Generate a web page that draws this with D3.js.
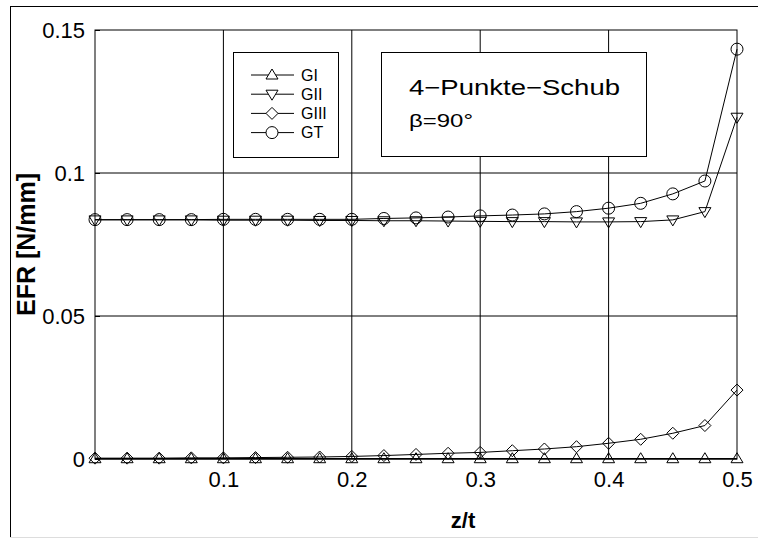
<!DOCTYPE html>
<html>
<head>
<meta charset="utf-8">
<script src="https://cdn.jsdelivr.net/npm/d3@7"></script>
<style>
  html, body { margin: 0; padding: 0; background: #fff; }
  svg { display: block; font-family: "Liberation Sans", Arial, sans-serif; }
</style>
</head>
<body>
<svg id="chart" width="758" height="538"></svg>
<script>
// Position through thickness z/t
const zt = [0, 0.025, 0.05, 0.075, 0.1, 0.125, 0.15, 0.175, 0.2, 0.225, 0.25,
            0.275, 0.3, 0.325, 0.35, 0.375, 0.4, 0.425, 0.45, 0.475, 0.5];

// Energy release rate components [N/mm]
const GI   = [0.0001, 0.0001, 0.0001, 0.0001, 0.0001, 0.0001, 0.0001, 0.0001, 0.0001, 0.0001, 0.0001,
              0.0001, 0.0001, 0.0001, 0.0001, 0.0001, 0.0001, 0.0001, 0.0001, 0.0001, 0.0001];
const GII  = [0.0836, 0.0836, 0.0836, 0.0836, 0.0835, 0.0835, 0.0835, 0.0834, 0.0834, 0.0833, 0.0833,
              0.0832, 0.0831, 0.0830, 0.0830, 0.0829, 0.0829, 0.0830, 0.0836, 0.0865, 0.1195];
const GIII = [0.0003, 0.0003, 0.0003, 0.0004, 0.0004, 0.0005, 0.0006, 0.0007, 0.0009, 0.0012, 0.0016,
              0.0020, 0.0023, 0.0029, 0.0035, 0.0043, 0.0055, 0.0069, 0.0090, 0.0117, 0.0241];
const GT   = [0.0837, 0.0837, 0.0837, 0.0837, 0.0838, 0.0838, 0.0838, 0.0838, 0.0838, 0.0841, 0.0843,
              0.0846, 0.0850, 0.0853, 0.0857, 0.0865, 0.0877, 0.0894, 0.0927, 0.0972, 0.1433];

const seriesNames = ["GI", "GII", "GIII", "GT"];
const seriesSymbols = ["triUp", "triDown", "diamond", "circle"];

const xTicks = [0.1, 0.2, 0.3, 0.4, 0.5];
const yTicks = [0, 0.05, 0.1, 0.15];
const xTickLabels = ["0.1", "0.2", "0.3", "0.4", "0.5"];
const yTickLabels = ["0", "0.05", "0.1", "0.15"];

const titleLines = ["4\u2212Punkte\u2212Schub", "\u03B2=90\u00B0"];

const svg = d3.select("#chart");
const W = 758, H = 538;
const plotL = 95, plotR = 737, plotT = 30, plotB = 459;

const x = d3.scaleLinear().domain([0, 0.5]).range([plotL, plotR]);
const y = d3.scaleLinear().domain([0, 0.15]).range([plotB, plotT]);

// Outer figure frame
svg.append("line").attr("x1", 10).attr("y1", 6.5).attr("x2", W).attr("y2", 6.5)
  .attr("stroke", "#000").attr("stroke-width", 1);
svg.append("line").attr("x1", 10.5).attr("y1", 6).attr("x2", 10.5).attr("y2", H)
  .attr("stroke", "#000").attr("stroke-width", 1);
svg.append("line").attr("x1", 10).attr("y1", 537.5).attr("x2", W).attr("y2", 537.5)
  .attr("stroke", "#ddd").attr("stroke-width", 1);

// Grid
const grid = svg.append("g").attr("stroke", "#000").attr("stroke-width", 1);
xTicks.filter(t => t < 0.5).forEach(t => {
  grid.append("line").attr("x1", x(t)).attr("x2", x(t)).attr("y1", plotT).attr("y2", plotB);
});
yTicks.filter(t => t > 0 && t < 0.15).forEach(t => {
  grid.append("line").attr("x1", plotL).attr("x2", plotR).attr("y1", y(t)).attr("y2", y(t));
});

// Axes box
svg.append("rect").attr("x", plotL).attr("y", plotT)
  .attr("width", plotR - plotL).attr("height", plotB - plotT)
  .attr("fill", "none").attr("stroke", "#000").attr("stroke-width", 1);

// Y axis with inward ticks
const yAxis = d3.axisLeft(y).tickValues(yTicks)
  .tickFormat((d, i) => yTickLabels[i]).tickSizeInner(-5).tickSizeOuter(0).tickPadding(10);
const gy = svg.append("g").attr("transform", `translate(${plotL},0)`).call(yAxis);
gy.select(".domain").remove();
gy.selectAll("text").attr("font-size", 22).attr("fill", "#000")
  .attr("font-family", "Liberation Sans, Arial, sans-serif");
gy.selectAll("line").attr("stroke", "#000");

// X axis labels
const xAxis = d3.axisBottom(x).tickValues(xTicks)
  .tickFormat((d, i) => xTickLabels[i]).tickSize(0).tickPadding(12);
const gx = svg.append("g").attr("transform", `translate(0,${plotB})`).call(xAxis);
gx.select(".domain").remove();
gx.selectAll("text").attr("font-size", 22).attr("fill", "#000")
  .attr("font-family", "Liberation Sans, Arial, sans-serif");

// Axis titles
svg.append("text").attr("x", 463).attr("y", 528)
  .attr("text-anchor", "middle").attr("font-size", 22).attr("font-weight", "bold")
  .text("z/t");
svg.append("text").attr("transform", `translate(35,${(plotT + plotB) / 2}) rotate(-90)`)
  .attr("text-anchor", "middle").attr("font-size", 25).attr("font-weight", "bold")
  .text("EFR [N/mm]");

// Marker shapes
function markerPath(kind) {
  switch (kind) {
    case "triUp":   return "M0,-6L6,4L-6,4Z";
    case "triDown": return "M0,6L6,-4L-6,-4Z";
    case "diamond": return "M0,-6L6,0L0,6L-6,0Z";
    default:        return d3.arc()({innerRadius: 0, outerRadius: 6, startAngle: 0, endAngle: 2 * Math.PI});
  }
}

const allSeries = [GI, GII, GIII, GT];
const line = d3.line().x((d, i) => x(zt[i])).y(d => y(d));
const plot = svg.append("g");
allSeries.forEach((vals, si) => {
  plot.append("path").datum(vals).attr("d", line)
    .attr("fill", "none").attr("stroke", "#000").attr("stroke-width", si === 0 ? 1.5 : 1);
  plot.selectAll(null).data(vals).enter().append("path")
    .attr("transform", (d, i) => `translate(${x(zt[i])},${y(d)})`)
    .attr("d", markerPath(seriesSymbols[si]))
    .attr("fill", "none").attr("stroke", "#000").attr("stroke-width", 1);
});

// Legend
const lg = svg.append("g");
lg.append("rect").attr("x", 233.5).attr("y", 52.5).attr("width", 105).attr("height", 105)
  .attr("fill", "#fff").attr("stroke", "#000").attr("stroke-width", 1);
seriesNames.forEach((name, i) => {
  const ly = 75 + i * 19.2;
  lg.append("line").attr("x1", 251).attr("x2", 294).attr("y1", ly).attr("y2", ly)
    .attr("stroke", "#000").attr("stroke-width", 1);
  lg.append("path").attr("transform", `translate(272,${ly})`)
    .attr("d", markerPath(seriesSymbols[i]))
    .attr("fill", "#fff").attr("stroke", "#000").attr("stroke-width", 1);
  lg.append("text").attr("x", 301).attr("y", ly).attr("dy", "0.36em")
    .attr("font-size", 16).text(name);
});

// Load case annotation
const ann = svg.append("g");
ann.append("rect").attr("x", 381.5).attr("y", 52.5).attr("width", 265).attr("height", 104)
  .attr("fill", "#fff").attr("stroke", "#000").attr("stroke-width", 1);
ann.append("text").attr("x", 409).attr("y", 95).attr("font-size", 22)
  .attr("textLength", 211).attr("lengthAdjust", "spacingAndGlyphs").text(titleLines[0]);
ann.append("text").attr("x", 409).attr("y", 127).attr("font-size", 19)
  .attr("textLength", 64).attr("lengthAdjust", "spacingAndGlyphs").text(titleLines[1]);
</script>
</body>
</html>
